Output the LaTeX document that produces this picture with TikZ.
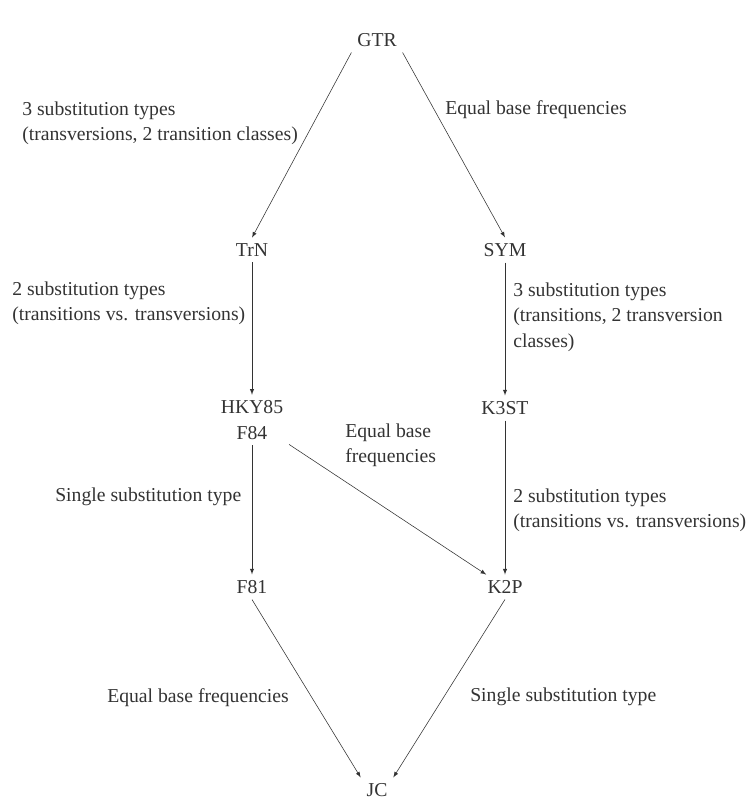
\documentclass[tikz,border=0pt]{standalone}
\usepackage{fontspec}
\setmainfont{Liberation Serif}
\usepackage{tikz}

\begin{document}
\begin{tikzpicture}[x=0.025cm, y=-0.025cm, >=latex, font=\fontsize{14}{18}\selectfont,
    color=black!80,
    model/.style={inner sep=4pt, align=center},
    note/.style={anchor=west, align=left, inner sep=0pt}]
    \useasboundingbox (0,0) rectangle (755,803);

    % Models
    \node[model] (gtr) at (377,40) {GTR};
    \node[model] (trn) at (252,250) {TrN};
    \node[model] (sym) at (505,250) {SYM};
    \node[model] (hky) at (252,420) {HKY85\\F84};
    \node[model] (kst) at (505,408) {K3ST};
    \node[model] (feo) at (252,587) {F81};
    \node[model] (ktp) at (505,587) {K2P};
    \node[model] (jc) at (377,790) {JC};

    % Arrows
    \draw[->] (gtr.south west) -- (trn.north);
    \draw[->] (gtr.south east) -- (sym.north);
    \draw[->] (trn) -- (hky);
    \draw[->] (sym) -- (kst);
    \draw[->] (hky) -- (feo);
    \draw[->] (hky) -- (ktp);
    \draw[->] (kst) -- (ktp);
    \draw[->] (feo.south) -- (jc.north west);
    \draw[->] (ktp.south) -- (jc.north east);

    % Labels
    \node[note] (l1) at (22,123) {3 substitution types\\(transversions, 2 transition classes)};
    \node[note] (l2) at (445,110) {Equal base frequencies};
    \node[note] (l3) at (12,303) {2 substitution types\\(transitions vs. transversions)};
    \node[note] (l4) at (513,317) {3 substitution types\\(transitions, 2 transversion\\classes)};
    \node[note] (l5) at (345,445) {Equal base\\frequencies};
    \node[note] (l6) at (55,497) {Single substitution type};
    \node[note] (l7) at (513,510) {2 substitution types\\(transitions vs. transversions)};
    \node[note] (l8) at (107,698) {Equal base frequencies};
    \node[note] (l9) at (470,697) {Single substitution type};
\end{tikzpicture}
\end{document}
